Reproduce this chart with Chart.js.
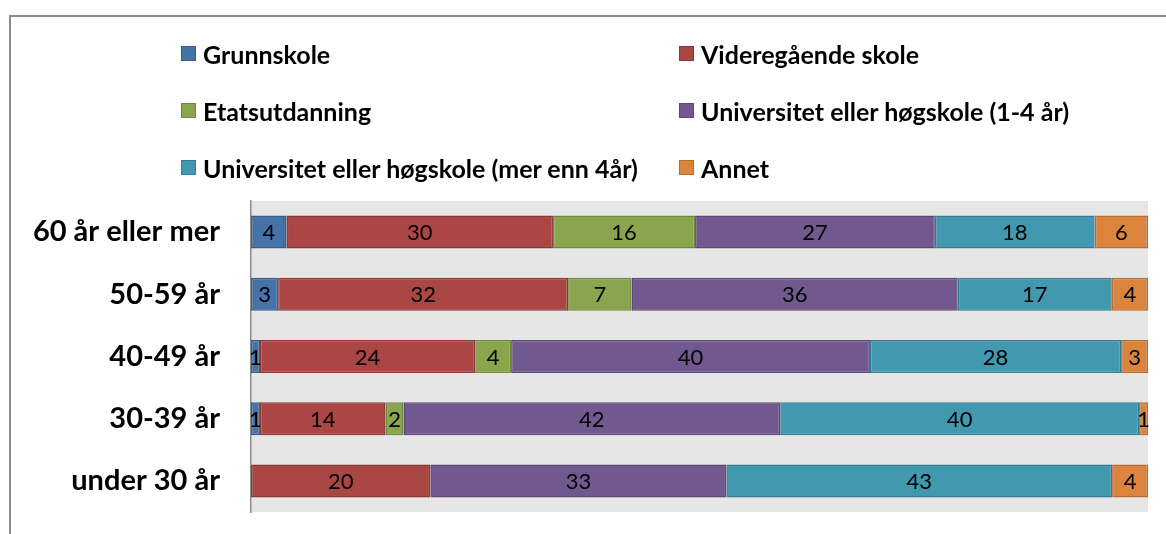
<!DOCTYPE html>
<html>
<head>
<meta charset="utf-8">
<script src="https://cdn.jsdelivr.net/npm/chart.js@4"></script>
<style>
  html, body { margin: 0; padding: 0; background: #fff; }
  #wrap { position: relative; width: 1166px; height: 534px; overflow: hidden; font-family: Lato, "Liberation Sans", sans-serif; }
  #frame { position: absolute; left: 9px; top: 15px; width: 1200px; height: 600px; border: 2px solid #8c8c8c; box-sizing: border-box; }
  #chart { position: absolute; left: 0; top: 0; }
  #legend { position: absolute; left: 181px; top: 38px; display: grid; grid-template-columns: 498px 420px; row-gap: 26px; }
  .item { display: flex; align-items: center; height: 31px; font-weight: bold; font-size: 25px; color: #000; white-space: nowrap; }
  .box { width: 13px; height: 13px; border: 1px solid; margin-right: 7px; }
</style>
</head>
<body>
<div id="wrap">
  <div id="frame"></div>
  <canvas id="chart" width="1166" height="534"></canvas>
  <div id="legend"></div>
</div>
<script>
// Age groups (top to bottom)
const ageGroups = ['60 år eller mer', '50-59 år', '40-49 år', '30-39 år', 'under 30 år'];

// Education levels
const levels = [
  'Grunnskole',
  'Videregående skole',
  'Etatsutdanning',
  'Universitet eller høgskole (1-4 år)',
  'Universitet eller høgskole (mer enn 4år)',
  'Annet'
];

// Values per education level, one entry per age group
const grunnskole     = [4, 3, 1, 1, 0];
const videregaende   = [30, 32, 24, 14, 20];
const etat           = [16, 7, 4, 2, 0];
const uni14          = [27, 36, 40, 42, 33];
const uni4pluss      = [18, 17, 28, 40, 43];
const annet          = [6, 4, 3, 1, 4];

const fillColors   = ['#4572a7', '#aa4643', '#89a54e', '#71588f', '#4198af', '#db843d'];
const borderColors = ['#385d8a', '#8c3836', '#71893f', '#5c4776', '#357d91', '#b66d31'];

const series = [grunnskole, videregaende, etat, uni14, uni4pluss, annet];

// Row totals for 100% stacking
const totals = ageGroups.map((_, i) => series.reduce((s, arr) => s + arr[i], 0));

const datasets = series.map((arr, k) => ({
  label: levels[k],
  data: arr.map((v, i) => v / totals[i] * 100),
  raw: arr,
  backgroundColor: fillColors[k],
  borderColor: borderColors[k],
  borderWidth: 1.5,
  borderSkipped: false,
  categoryPercentage: 1,
  barPercentage: 0.53
}));

// Build legend
const legendEl = document.getElementById('legend');
levels.forEach((name, k) => {
  const item = document.createElement('div');
  item.className = 'item';
  item.innerHTML = `<span class="box" style="background:${fillColors[k]};border-color:${borderColors[k]}"></span>${name}`;
  legendEl.appendChild(item);
});

// Plot area background
const plotBg = {
  id: 'plotBg',
  beforeDraw(chart) {
    const { ctx, chartArea: a } = chart;
    ctx.save();
    ctx.fillStyle = '#e6e6e6';
    ctx.fillRect(a.left, a.top, a.right - a.left, a.bottom - a.top);
    ctx.restore();
  }
};

// Value labels centred on each segment
const valueLabels = {
  id: 'valueLabels',
  afterDatasetsDraw(chart) {
    const ctx = chart.ctx;
    ctx.save();
    ctx.font = '22px Lato, "Liberation Sans", sans-serif';
    ctx.fillStyle = '#000';
    ctx.textAlign = 'center';
    ctx.textBaseline = 'middle';
    chart.data.datasets.forEach((ds, k) => {
      chart.getDatasetMeta(k).data.forEach((bar, i) => {
        const v = ds.raw[i];
        if (!v) return;
        const x = (bar.x + bar.base) / 2;
        ctx.fillText(String(v), x, bar.y + 1);
      });
    });
    ctx.restore();
  }
};

new Chart(document.getElementById('chart'), {
  type: 'bar',
  data: { labels: ageGroups, datasets },
  options: {
    indexAxis: 'y',
    responsive: false,
    animation: false,
    layout: { padding: { top: 201, bottom: 22, right: 18, left: 0 } },
    plugins: {
      legend: { display: false },
      tooltip: { enabled: false }
    },
    scales: {
      x: {
        stacked: true,
        min: 0,
        max: 100,
        display: false
      },
      y: {
        stacked: true,
        grid: { display: false, drawTicks: false },
        border: { display: true, color: '#8c8c8c', width: 1.5 },
        ticks: {
          color: '#000',
          padding: 31,
          font: { family: 'Lato, "Liberation Sans", sans-serif', size: 29, weight: 'bold' }
        },
        afterFit(scale) {
          scale.width = 251;
          scale.paddingTop = 0;
          scale.paddingBottom = 0;
        }
      }
    }
  },
  plugins: [plotBg, valueLabels]
});
</script>
</body>
</html>
